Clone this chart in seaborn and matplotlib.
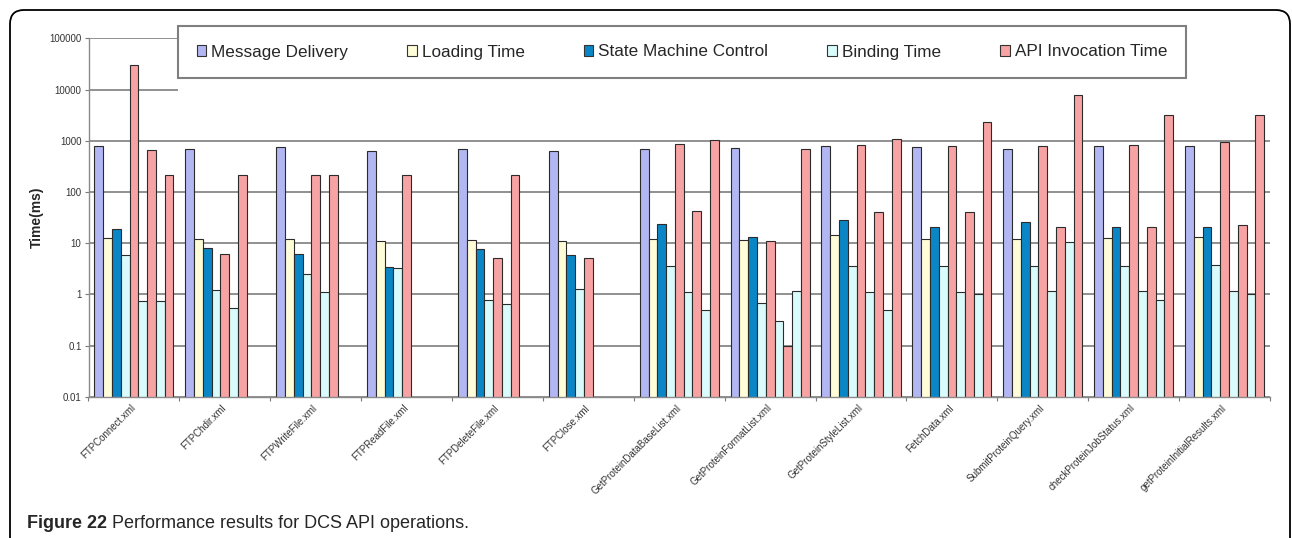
import matplotlib

matplotlib.use("Agg")
import matplotlib.pyplot as plt
import numpy as np
import pandas as pd
import seaborn as sns
from matplotlib.patches import Patch, Rectangle, FancyBboxPatch
from matplotlib.transforms import IdentityTransform

nan = np.nan

operations = [
    "FTPConnect.xml", "FTPChdir.xml", "FTPWriteFile.xml", "FTPReadFile.xml",
    "FTPDeleteFile.xml", "FTPClose.xml", "GetProteinDataBaseList.xml",
    "GetProteinFormatList.xml", "GetProteinStyleList.xml", "FetchData.xml",
    "SubmitProteinQuery.xml", "checkProteinJobStatus.xml",
    "getProteinInitialResults.xml",
]

# one value per operation; nan = no bar in that slot
message_delivery = [790, 690, 740, 630, 690, 620, 690, 720, 800, 740, 690, 775, 800]
loading_time = [12.8, 12, 12, 11, 11.6, 11, 12, 11.6, 14.5, 12, 12, 12.8, 13.4]
state_machine = [19, 8.2, 6.2, 3.35, 7.7, 5.8, 23.8, 12.9, 28, 21, 25.7, 21, 21]
binding_1 = [5.8, 1.2, 2.5, 3.2, 0.76, 1.27, 3.6, 0.67, 3.6, 3.6, 3.6, 3.6, 3.8]
api_1 = [30000, 6.2, 211, 211, 5.2, 5.2, 860, 10.8, 830, 800, 800, 830, 930]
binding_2 = [0.73, 0.55, 1.1, nan, 0.64, nan, 1.1, 0.30, 1.1, 1.1, 1.18, 1.18, 1.18]
api_2 = [660, 211, 211, nan, 211, nan, 43, 0.096, 40, 40, 21, 20.6, 22.8]
binding_3 = [0.73, nan, nan, nan, nan, nan, 0.49, 1.18, 0.49, 1.0, 10.3, 0.76, 1.0]
api_3 = [211, nan, nan, nan, nan, nan, 1030, 690, 1070, 2280, 7970, 3170, 3170]

legend_labels = ["Message Delivery", "Loading Time", "State Machine Control",
                 "Binding Time", "API Invocation Time"]
legend_colors = ["#B2B6F2", "#FFFDD8", "#0A86C6", "#DAFBFB", "#F8A3A3"]

# the 9 bar slots inside each group, and which legend entry each belongs to
slots = ["md", "lt", "smc", "bt1", "api1", "bt2", "api2", "bt3", "api3"]
slot_series = [message_delivery, loading_time, state_machine, binding_1, api_1,
               binding_2, api_2, binding_3, api_3]
slot_kind = [0, 1, 2, 3, 4, 3, 4, 3, 4]

rows = []
for slot, values in zip(slots, slot_series):
    for op, v in zip(operations, values):
        if not np.isnan(v):
            rows.append({"operation": op, "slot": slot, "time": v})
df = pd.DataFrame(rows)
palette = {s: legend_colors[k] for s, k in zip(slots, slot_kind)}

sns.set_theme(style="white")
plt.rcParams["font.family"] = ["Liberation Sans", "DejaVu Sans"]

W, H = 1292, 538
fig = plt.figure(figsize=(W / 100, H / 100), dpi=100)
ax_l, ax_r, ax_t, ax_b = 88.5, 1270, 38.3, 396.7
ax = fig.add_axes([ax_l / W, 1 - ax_b / H, (ax_r - ax_l) / W, (ax_b - ax_t) / H])

# bars drawn from 0 on a linear axis, then the axis is switched to log
sns.barplot(data=df, x="operation", y="time", hue="slot", order=operations,
            hue_order=slots, palette=palette, saturation=1, width=0.87, gap=0,
            errorbar=None, edgecolor="#2b2b2b", linewidth=0.8,
            legend=False, ax=ax, zorder=2)
ax.set_yscale("log")
ax.set_ylim(0.01, 100000)
ax.set_xlim(-0.5, len(operations) - 0.5)

yt = [0.01, 0.1, 1, 10, 100, 1000, 10000, 100000]
ax.set_yticks(yt)
ax.set_yticklabels(["0.01", "0.1", "1", "10", "100", "1000", "10000", "100000"],
                   fontsize=7, color="#333333")
ax.yaxis.set_minor_locator(matplotlib.ticker.NullLocator())
ax.tick_params(axis="y", which="major", left=True, length=3, width=0.8,
               color="#7a7a7a", pad=2)

ax.set_xticks(range(len(operations)))
ax.set_xticklabels(operations, rotation=45, ha="right", va="center",
                   rotation_mode="anchor", fontsize=7, color="#333333")
ax.set_xticks(np.arange(-0.5, len(operations)), minor=True)
ax.tick_params(axis="x", which="major", length=0, pad=7)
ax.tick_params(axis="x", which="minor", bottom=True, length=3, width=0.8,
               color="#7a7a7a")
ax.set_xlabel("")

ax.yaxis.grid(True, color="#737373", linewidth=1.1)
ax.xaxis.grid(False)
ax.set_axisbelow(True)
for side in ["top", "right"]:
    ax.spines[side].set_visible(False)
for side in ["left", "bottom"]:
    ax.spines[side].set_color("#8a8a8a")
    ax.spines[side].set_linewidth(1.0)

# the upper gridlines are blanked out to the right of the legend's left edge
x0 = (178 - ax_l) / (ax_r - ax_l)
ax.add_patch(Rectangle((x0, 0.84), 1.05 - x0, 0.19, transform=ax.transAxes,
                       facecolor="white", edgecolor="none", zorder=1,
                       clip_on=False))

ax.set_ylabel("Time(ms)", fontsize=10, fontweight="bold")
ax.yaxis.set_label_coords((44 - ax_l) / (ax_r - ax_l), 0.5)

handles = [Patch(facecolor=c, edgecolor="#333333", linewidth=0.8)
           for c in legend_colors]
leg = ax.legend(handles, legend_labels, ncol=5, loc="center",
                bbox_to_anchor=(178 / W, 1 - 77 / H, (1186 - 178) / W, 50 / H),
                bbox_transform=fig.transFigure, mode="expand", frameon=True,
                fancybox=False, edgecolor="#7f7f7f", framealpha=1,
                fontsize=12.3, handlelength=0.55, handleheight=0.55,
                handletextpad=0.3, borderpad=1.1, borderaxespad=0)
leg.get_frame().set_linewidth(1.5)
leg.set_zorder(5)

# rounded frame around the figure panel
fig.add_artist(FancyBboxPatch((10, -30), 1280, 558, transform=IdentityTransform(),
                              boxstyle="round,pad=0,rounding_size=14",
                              fill=False, edgecolor="black", linewidth=1.3))

cap_y = 1 - 524 / H
t1 = fig.text(27 / W, cap_y, "Figure 22", fontsize=13, fontweight="bold",
              va="center")
renderer = fig.canvas.get_renderer()
bb = t1.get_window_extent(renderer)
fig.text(bb.x1 / W + 5 / W, cap_y, "Performance results for DCS API operations.",
         fontsize=13, va="center")

fig.savefig("out.png", dpi=100)
